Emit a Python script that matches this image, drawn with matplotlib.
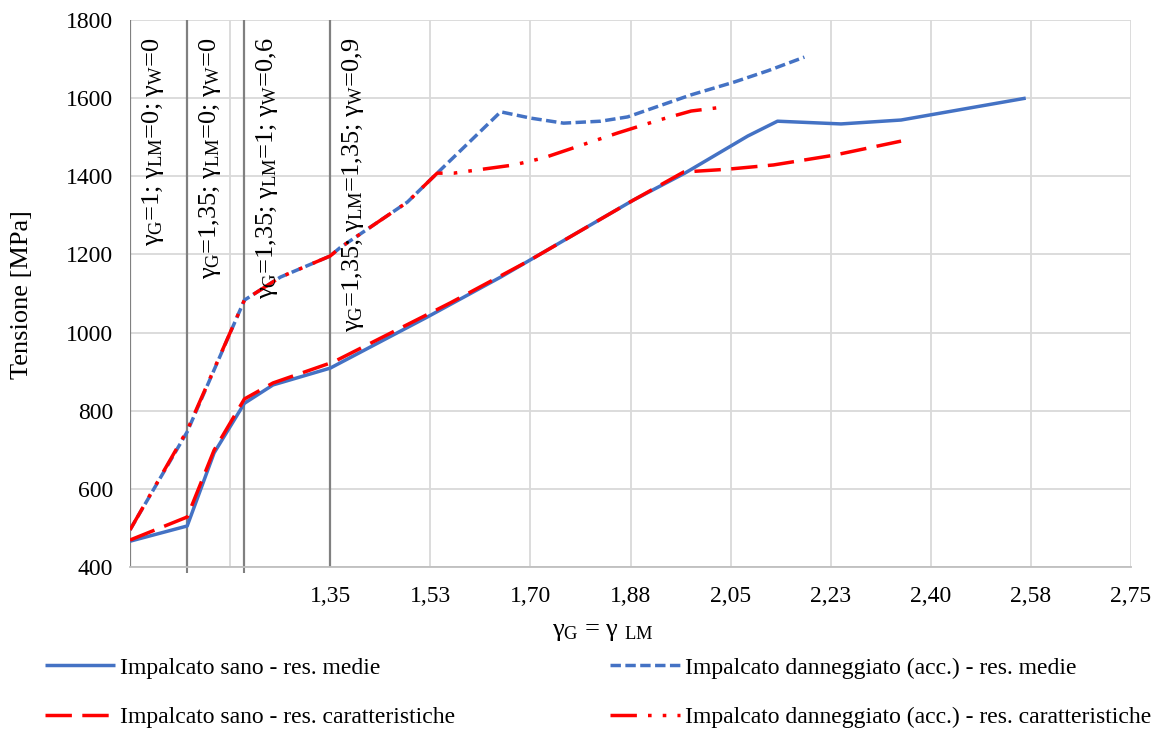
import matplotlib
matplotlib.use("Agg")
import matplotlib.pyplot as plt

# ---- data -------------------------------------------------------------
x_sano_medie = [1.00, 1.10, 1.147, 1.20, 1.25, 1.35, 1.52, 1.648, 1.88, 1.97, 2.08, 2.132, 2.243, 2.348, 2.566]
y_sano_medie = [466, 505, 692, 819, 866, 909, 1040, 1142, 1339, 1408, 1503, 1541, 1534, 1544, 1600]

x_sano_caratt = [1.00, 1.10, 1.147, 1.20, 1.25, 1.356, 1.56, 1.70, 1.88, 1.968, 2.044, 2.125, 2.231, 2.348]
y_sano_caratt = [469, 528, 699, 830, 871, 925, 1076, 1186, 1339, 1411, 1418, 1429, 1454, 1490]

x_dann_medie = [1.00, 1.10, 1.20, 1.263, 1.35, 1.367, 1.485, 1.537, 1.648, 1.70, 1.758, 1.823, 1.87, 1.98, 2.056, 2.115, 2.179]
y_dann_medie = [495, 746, 1083, 1142, 1196, 1217, 1334, 1408, 1565, 1549, 1536, 1541, 1552, 1608, 1641, 1670, 1705]

x_dann_caratt = [1.00, 1.10, 1.20, 1.263, 1.35, 1.367, 1.485, 1.537, 1.566, 1.671, 1.723, 1.80, 1.853, 1.925, 1.981, 2.025]
y_dann_caratt = [495, 750, 1083, 1142, 1196, 1217, 1334, 1408, 1408, 1429, 1447, 1485, 1511, 1544, 1567, 1575]

labels = [
    "Impalcato sano - res. medie",
    "Impalcato sano - res. caratteristiche",
    "Impalcato danneggiato (acc.) - res. medie",
    "Impalcato danneggiato (acc.) - res. caratteristiche",
]

# load-combination stages marked by vertical lines
stage_x = [1.00, 1.10, 1.20, 1.35]
stage_text = [
    "γ$_{\\mathrm{G}}$=1; γ$_{\\mathrm{LM}}$=0; γ$_{\\mathrm{W}}$=0",
    "γ$_{\\mathrm{G}}$=1,35; γ$_{\\mathrm{LM}}$=0; γ$_{\\mathrm{W}}$=0",
    "γ$_{\\mathrm{G}}$=1,35; γ$_{\\mathrm{LM}}$=1; γ$_{\\mathrm{W}}$=0,6",
    "γ$_{\\mathrm{G}}$=1,35; γ$_{\\mathrm{LM}}$=1,35; γ$_{\\mathrm{W}}$=0,9",
]

x_ticks = [1.0, 1.175, 1.35, 1.525, 1.70, 1.875, 2.05, 2.225, 2.40, 2.575, 2.75]
x_tick_labels = ["", "", "1,35", "1,53", "1,70", "1,88", "2,05", "2,23", "2,40", "2,58", "2,75"]
y_ticks = [400, 600, 800, 1000, 1200, 1400, 1600, 1800]

# ---- style ------------------------------------------------------------
plt.rcParams["font.family"] = ["Liberation Serif", "DejaVu Serif"]
plt.rcParams["mathtext.fontset"] = "custom"
plt.rcParams["mathtext.rm"] = "Liberation Serif"
plt.rcParams["mathtext.it"] = "Liberation Serif:italic"
plt.rcParams["mathtext.bf"] = "Liberation Serif:bold"
plt.rcParams["lines.scale_dashes"] = False

BLUE = "#4472C4"
RED = "#FF0000"
GRID = "#D9D9D9"
STAGE = "#808080"
FS = 17        # horizontal text
FS_ROT = 19    # rotated text
LW = 2.5

fig = plt.figure(figsize=(11.67, 7.36), dpi=100)
ax = fig.add_axes([130 / 1167, 1 - 567 / 736, (1131 - 130) / 1167, (567 - 20) / 736])

ax.set_xlim(1.0, 2.75)
ax.set_ylim(400, 1800)
ax.set_xticks(x_ticks)
ax.set_xticklabels(x_tick_labels, fontsize=FS)
ax.set_yticks(y_ticks)
ax.set_yticklabels([str(v) for v in y_ticks], fontsize=FS)
ax.tick_params(axis="y", length=0, pad=12)
ax.tick_params(axis="x", length=0, pad=14)
ax.set_xticks(stage_x, minor=True)
ax.tick_params(axis="x", which="minor", length=4, width=1.5, color=STAGE)

ax.grid(True, color=GRID, linewidth=1.3, zorder=0)
ax.set_axisbelow(True)
for side in ("top", "right", "left"):
    ax.spines[side].set_visible(False)
ax.spines["bottom"].set_color("#BFBFBF")
ax.spines["bottom"].set_linewidth(1.3)

for xs in stage_x:
    ax.axvline(xs, color=STAGE, linewidth=1.6, zorder=1)

for xs, txt in zip(stage_x, stage_text):
    ax.annotate(txt, xy=(xs, 1755), xytext=(7, 0), textcoords="offset points",
                rotation=90, ha="left", va="top", fontsize=FS_ROT, zorder=5)

l1, = ax.plot(x_sano_medie, y_sano_medie, color=BLUE, linewidth=LW,
              solid_capstyle="butt", solid_joinstyle="round", zorder=3)
l3, = ax.plot(x_dann_medie, y_dann_medie, color=BLUE, linewidth=LW,
              dashes=(7.5, 3.2), dash_capstyle="butt", zorder=3)
l2, = ax.plot(x_sano_caratt, y_sano_caratt, color=RED, linewidth=LW,
              dashes=(19, 7.5), dash_capstyle="butt", zorder=4)
l4, = ax.plot(x_dann_caratt, y_dann_caratt, color=RED, linewidth=LW,
              dashes=(19, 8, 2.6, 8, 2.6, 8), dash_capstyle="butt", zorder=4)

# axis titles
fig.text(22 / 1167, 1 - 295 / 736, "Tensione [MPa]", rotation=90,
         ha="center", va="center", fontsize=FS_ROT)
fig.text(603 / 1167, 1 - 632 / 736, "γ$_{\\mathrm{G}}$ = γ $_{\\mathrm{LM}}$",
         ha="center", va="center", fontsize=19)

# legend in two columns below the plot
leg_kw = dict(loc="upper left", frameon=False, fontsize=FS, handlelength=2.95,
              handletextpad=0.22, labelspacing=1.2, borderpad=0, borderaxespad=0)
fig.legend([l1, l2], labels[:2], bbox_to_anchor=(45 / 1167, 1 - 657 / 736), **leg_kw)
fig.legend([l3, l4], labels[2:], bbox_to_anchor=(610 / 1167, 1 - 657 / 736), **leg_kw)

fig.savefig("out.png", dpi=100)
